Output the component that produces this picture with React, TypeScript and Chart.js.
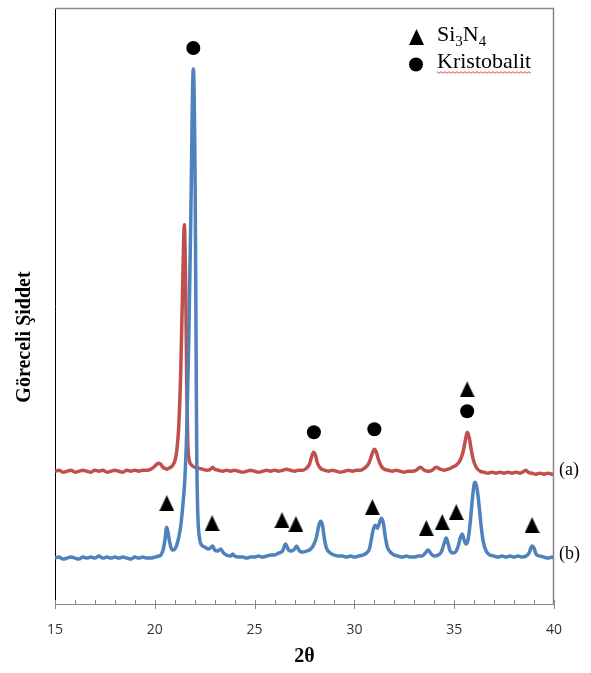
import React, { useEffect, useRef } from "react";
import { Chart, registerables } from "chart.js";

Chart.register(...registerables);

const X_MIN = 15;
const X_MAX = 40;
const Y_MIN = -3;
const Y_MAX = 594;
const xTickLabels = [15, 20, 25, 30, 35, 40];

const xAxisTitle = "2θ";
const yAxisTitle = "Göreceli Şiddet";
const seriesLabels = ["(a)", "(b)"];
const legendLabels = ["Si3N4", "Kristobalit"];

// (a) red pattern: [2θ, relative intensity]
const seriesA: [number, number][] = [
  [15.0,130],[15.2,131],[15.4,129],[15.6,130],[15.8,131],[16.0,129],[16.2,130],[16.4,131],[16.6,130],[16.8,129],
  [17.0,131],[17.2,130],[17.4,131],[17.6,129],[17.8,130],[18.0,131],[18.2,130],[18.4,129],[18.6,131],[18.8,130],
  [19.0,131],[19.2,130],[19.4,131],[19.6,131],[19.8,132],[20.0,135],[20.1,137],[20.2,138],[20.3,137],[20.4,134],
  [20.5,133],[20.6,132],[20.7,133],[20.8,134],[20.9,136],[21.0,140],[21.1,150],[21.2,175],[21.3,230],[21.4,320],
  [21.48,377],[21.55,310],[21.6,220],[21.65,160],[21.72,142],[21.85,136],[22.0,134],[22.2,133],[22.4,132],[22.6,131],
  [22.8,132],[22.9,134],[23.0,132],[23.2,131],[23.4,130],[23.6,131],[23.8,130],[24.0,131],[24.2,130],[24.4,129],
  [24.6,130],[24.8,131],[25.0,130],[25.2,129],[25.4,130],[25.6,131],[25.8,130],[26.0,131],[26.2,130],[26.4,131],
  [26.6,132],[26.8,131],[27.0,130],[27.2,131],[27.4,131],[27.6,133],[27.75,137],[27.85,144],[27.95,149],[28.05,146],
  [28.15,138],[28.3,133],[28.5,131],[28.7,130],[28.9,131],[29.1,130],[29.3,129],[29.5,130],[29.7,131],[29.9,130],
  [30.1,131],[30.3,131],[30.5,133],[30.7,137],[30.8,142],[30.9,148],[31.0,152],[31.1,149],[31.2,142],[31.35,135],
  [31.5,132],[31.7,131],[31.9,130],[32.1,131],[32.3,130],[32.5,129],[32.7,130],[32.9,130],[33.1,131],[33.3,134],
  [33.5,131],[33.7,130],[33.9,131],[34.1,134],[34.3,132],[34.5,131],[34.7,132],[34.9,134],[35.1,136],[35.3,141],
  [35.45,150],[35.55,160],[35.65,169],[35.75,164],[35.85,152],[35.95,142],[36.1,134],[36.3,130],[36.5,129],[36.7,128],
  [36.9,129],[37.1,128],[37.3,129],[37.5,128],[37.7,129],[37.9,128],[38.1,129],[38.3,128],[38.5,130],[38.6,131],
  [38.7,129],[38.9,128],[39.1,127],[39.3,128],[39.5,127],[39.7,128],[39.9,127],[40.0,127],
];

// (b) blue pattern: [2θ, relative intensity]
const seriesB: [number, number][] = [
  [15.0,43],[15.2,44],[15.4,42],[15.6,43],[15.8,44],[16.0,43],[16.2,42],[16.4,44],[16.6,43],[16.8,44],
  [17.0,43],[17.2,45],[17.4,43],[17.6,44],[17.8,43],[18.0,44],[18.2,43],[18.4,44],[18.6,43],[18.8,42],
  [19.0,44],[19.2,43],[19.4,44],[19.6,43],[19.8,43],[20.0,44],[20.2,45],[20.3,46],[20.4,50],[20.5,60],
  [20.6,74],[20.7,64],[20.8,54],[20.9,51],[21.0,52],[21.1,56],[21.2,64],[21.3,75],[21.4,95],[21.5,120],
  [21.6,170],[21.7,260],[21.8,380],[21.93,533],[22.02,420],[22.07,250],[22.1,150],[22.15,90],[22.25,62],[22.35,56],
  [22.5,54],[22.7,52],[22.9,55],[23.0,51],[23.15,50],[23.3,52],[23.45,48],[23.6,46],[23.8,45],[23.9,47],
  [24.0,45],[24.2,44],[24.4,44],[24.6,43],[24.8,44],[25.0,44],[25.2,45],[25.4,44],[25.6,45],[25.8,46],
  [26.0,46],[26.2,48],[26.4,50],[26.55,57],[26.7,51],[26.85,50],[27.0,52],[27.1,55],[27.25,50],[27.4,49],
  [27.6,50],[27.8,52],[27.95,56],[28.1,64],[28.2,74],[28.3,80],[28.4,76],[28.5,62],[28.6,53],[28.8,48],
  [29.0,46],[29.2,45],[29.4,45],[29.6,44],[29.8,45],[30.0,44],[30.2,45],[30.4,46],[30.6,48],[30.75,52],
  [30.85,62],[30.95,72],[31.05,76],[31.15,73],[31.25,78],[31.35,83],[31.45,78],[31.55,64],[31.65,54],[31.8,49],
  [32.0,46],[32.2,45],[32.4,44],[32.6,45],[32.8,44],[33.0,44],[33.2,45],[33.4,45],[33.55,48],[33.7,51],
  [33.85,47],[34.0,45],[34.2,46],[34.35,49],[34.5,58],[34.6,63],[34.7,57],[34.8,50],[34.95,48],[35.1,50],
  [35.2,55],[35.3,63],[35.4,67],[35.5,61],[35.6,57],[35.7,62],[35.8,78],[35.9,100],[36.0,117],[36.06,119],
  [36.15,112],[36.25,95],[36.35,75],[36.45,60],[36.6,50],[36.8,46],[37.0,45],[37.2,44],[37.4,45],[37.6,44],
  [37.8,45],[38.0,44],[38.2,45],[38.4,44],[38.6,45],[38.75,48],[38.9,55],[39.0,53],[39.1,47],[39.3,45],
  [39.5,44],[39.7,43],[39.9,44],[40.0,43],
];

// peak markers: [2θ, height]
const cristobaliteMarks: [number, number][] = [
  [21.93,554],[27.97,169],[31.0,172],[35.65,190],
];
const si3n4Marks: [number, number][] = [
  [35.65,212],[20.6,98],[22.87,78],[26.37,81],[27.07,77],[30.9,94],[33.6,73],[34.4,79],[35.1,89],[38.9,76],
];

const RED = "#C0504D";
const BLUE = "#4F81BD";
const AXIS_GRAY = "#878787";

function makeTriangle(): HTMLCanvasElement {
  const c = document.createElement("canvas");
  c.width = 15;
  c.height = 16;
  const g = c.getContext("2d")!;
  g.fillStyle = "#000";
  g.beginPath();
  g.moveTo(7.5, 0);
  g.lineTo(15, 16);
  g.lineTo(0, 16);
  g.closePath();
  g.fill();
  return c;
}

const overlayPlugin = {
  id: "overlay",
  afterDraw(chart: any) {
    const ctx: CanvasRenderingContext2D = chart.ctx;
    const area = chart.chartArea;
    const xs = chart.scales.x;
    const ys = chart.scales.y;
    ctx.save();
    // frame: top & right
    ctx.strokeStyle = AXIS_GRAY;
    ctx.lineWidth = 1.5;
    ctx.beginPath();
    ctx.moveTo(area.left, Math.round(area.top) + 0.5);
    ctx.lineTo(Math.round(area.right) - 0.5, Math.round(area.top) + 0.5);
    ctx.lineTo(Math.round(area.right) - 0.5, area.bottom);
    ctx.stroke();
    // tick marks
    ctx.lineWidth = 1;
    const yb = Math.round(area.bottom);
    for (let v = X_MIN; v <= X_MAX; v++) {
      const px = Math.round(xs.getPixelForValue(v)) + 0.5;
      ctx.beginPath();
      if (xTickLabels.includes(v)) {
        ctx.moveTo(px, yb - 4);
        ctx.lineTo(px, yb + 5);
      } else {
        ctx.moveTo(px, yb - 4);
        ctx.lineTo(px, yb);
      }
      ctx.stroke();
    }
    // y title
    ctx.fillStyle = "#000";
    ctx.font = 'bold 20px "Liberation Serif"';
    ctx.textAlign = "center";
    ctx.textBaseline = "middle";
    ctx.translate(25, 337);
    ctx.rotate(-Math.PI / 2);
    ctx.fillText(yAxisTitle, 0, 0);
    ctx.setTransform(1, 0, 0, 1, 0, 0);

    // series labels
    ctx.font = '18px "Liberation Serif"';
    ctx.textAlign = "left";
    ctx.textBaseline = "middle";
    const aBase = ys.getPixelForValue(seriesA[seriesA.length - 1][1]);
    const bBase = ys.getPixelForValue(seriesB[seriesB.length - 1][1]);
    ctx.fillText(seriesLabels[0], area.right + 5, aBase - 4);
    ctx.fillText(seriesLabels[1], area.right + 5, bBase - 4);

    // legend
    const tri = makeTriangle();
    ctx.drawImage(tri, 409, 29);
    ctx.beginPath();
    ctx.arc(416, 64.5, 7, 0, Math.PI * 2);
    ctx.fill();
    ctx.textBaseline = "alphabetic";
    const big = '22px "Liberation Serif"';
    const small = '15px "Liberation Serif"';
    let x = 437;
    const parts: [string, boolean][] = [["Si", false], ["3", true], ["N", false], ["4", true]];
    const txt = legendLabels[0];
    let idx = 0;
    for (const [p, sub] of parts) {
      const s = txt.substr(idx, p.length);
      idx += p.length;
      ctx.font = sub ? small : big;
      ctx.fillText(s, x, sub ? 46 : 41);
      x += ctx.measureText(s).width;
    }
    ctx.font = big;
    ctx.fillText(legendLabels[1], 437, 68);
    const kw = ctx.measureText(legendLabels[1]).width;
    // spell-check wavy underline
    ctx.strokeStyle = "#e04848";
    ctx.lineWidth = 1;
    ctx.beginPath();
    for (let wx = 437, i = 0; wx <= 437 + kw; wx += 2, i++) {
      const wy = 72.5 + (i % 2 === 0 ? -0.8 : 0.8);
      if (i === 0) ctx.moveTo(wx, wy);
      else ctx.lineTo(wx, wy);
    }
    ctx.stroke();
    ctx.restore();
  },
};

export default function App() {
  const ref = useRef<HTMLCanvasElement | null>(null);
  useEffect(() => {
    if (!ref.current) return;
    const tri = makeTriangle();
    const chart = new Chart(ref.current, {
      type: "line",
      data: {
        datasets: [
          {
            label: "Kristobalit",
            data: cristobaliteMarks.map(([x, y]) => ({ x, y })),
            showLine: false,
            pointStyle: "circle",
            pointRadius: 7,
            backgroundColor: "#000",
            borderWidth: 0,
            clip: false,
          } as any,
          {
            label: "Si3N4",
            data: si3n4Marks.map(([x, y]) => ({ x, y })),
            showLine: false,
            pointStyle: tri,
            pointRadius: 8,
            backgroundColor: "#000",
            borderWidth: 0,
            clip: false,
          } as any,
          {
            label: "(b)",
            data: seriesB.map(([x, y]) => ({ x, y })),
            borderColor: BLUE,
            borderWidth: 3.5,
            pointRadius: 0,
            fill: false,
            cubicInterpolationMode: "monotone",
          },
          {
            label: "(a)",
            data: seriesA.map(([x, y]) => ({ x, y })),
            borderColor: RED,
            borderWidth: 3.5,
            pointRadius: 0,
            fill: false,
            cubicInterpolationMode: "monotone",
          },
        ],
      },
      options: {
        animation: false,
        responsive: false,
        events: [],
        layout: { padding: { left: 0, right: 37, top: 7, bottom: 0 } },
        plugins: { legend: { display: false }, tooltip: { enabled: false } },
        scales: {
          x: {
            type: "linear",
            min: X_MIN,
            max: X_MAX,
            afterFit: (s: any) => {
              s.height = 69;
            },
            border: { display: true, color: AXIS_GRAY, width: 1 },
            grid: { display: false, drawTicks: false },
            ticks: {
              stepSize: 5,
              padding: 18,
              color: "#333",
              font: { family: '"Open Sans"', size: 14 },
              callback: (v: any) => (xTickLabels.includes(Number(v)) ? String(v) : ""),
            },
            title: {
              display: true,
              text: xAxisTitle,
              color: "#000",
              font: { family: '"Liberation Serif"', size: 20, weight: "bold" },
              padding: { top: 0, bottom: 4 },
            },
          },
          y: {
            type: "linear",
            min: Y_MIN,
            max: Y_MAX,
            afterFit: (s: any) => {
              s.width = 55;
            },
            border: { display: true, color: "#000", width: 1 },
            grid: { display: false, drawTicks: false },
            ticks: { display: false },
          },
        },
      },
      plugins: [overlayPlugin],
    });
    return () => chart.destroy();
  }, []);
  return (
    <div style={{ position: "fixed", left: 0, top: 0, width: 591, height: 673, background: "#fff" }}>
      <canvas ref={ref} width={591} height={673} style={{ display: "block" }} />
    </div>
  );
}
